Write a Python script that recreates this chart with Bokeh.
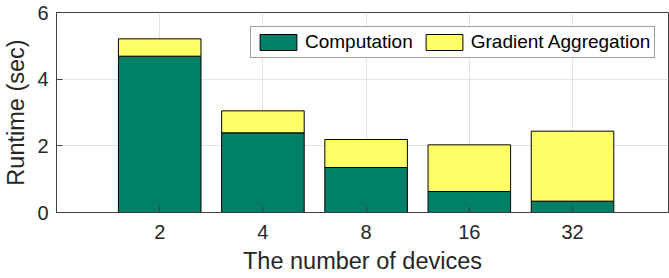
from bokeh.plotting import figure
from bokeh.models import ColumnDataSource, Range1d, FixedTicker, Legend, LegendItem
from bokeh.embed import file_html
from bokeh.resources import INLINE

devices = ["2", "4", "8", "16", "32"]
computation = [4.69, 2.39, 1.35, 0.63, 0.34]
aggregation = [0.52, 0.66, 0.84, 1.40, 2.10]
positions = [1, 2, 3, 4, 5]
y_ticks = [0, 2, 4, 6]

FONT = "Liberation Sans"
TXT = "#262626"

src = ColumnDataSource(dict(x=positions, comp=computation, agg=aggregation))

p = figure(width=669, height=278, output_backend="svg", toolbar_location=None,
           x_range=Range1d(0, 5.93), y_range=Range1d(0, 6),
           min_border_left=55, min_border_right=1, min_border_top=12, min_border_bottom=66)

p.background_fill_color = "white"
p.outline_line_color = "#404040"
p.outline_line_width = 1

rs = p.vbar_stack(["comp", "agg"], x="x", width=0.8, source=src,
                  color=["#008066", "#FFFF66"], line_color="black", line_width=1)
for r in rs:
    r.glyph.line_color = "black"

p.xaxis.ticker = FixedTicker(ticks=positions)
p.xaxis.major_label_overrides = {pos: lab for pos, lab in zip(positions, devices)}
p.yaxis.ticker = FixedTicker(ticks=y_ticks)

for ax in (p.xaxis[0], p.yaxis[0]):
    ax.axis_line_color = "#404040"
    ax.major_tick_line_color = "#404040"
    ax.major_tick_in = 6
    ax.major_tick_out = 0
    ax.minor_tick_line_color = None
    ax.major_label_text_font = FONT
    ax.major_label_text_font_size = "20px"
    ax.major_label_text_color = TXT
    ax.axis_label_text_font = FONT
    ax.axis_label_text_font_size = "23.5px"
    ax.axis_label_text_font_style = "normal"
    ax.axis_label_text_color = TXT

p.xaxis.axis_label = "The number of devices"
p.yaxis.axis_label = "Runtime (sec)"
p.xaxis.major_label_standoff = 12
p.xaxis.axis_label_standoff = 6
p.yaxis.major_label_standoff = 8
p.yaxis.axis_label_standoff = 5

p.xgrid.ticker = FixedTicker(ticks=positions)
p.grid.grid_line_color = "#e3e3e3"
p.grid.grid_line_width = 1

legend = Legend(items=[LegendItem(label="Computation", renderers=[rs[0]]),
                       LegendItem(label="Gradient Aggregation", renderers=[rs[1]])],
                orientation="horizontal", location=(194, 154))
legend.glyph_width = 46
legend.glyph_height = 20
legend.label_text_font = FONT
legend.label_text_font_size = "19px"
legend.label_text_color = "black"
legend.label_standoff = 4
legend.label_height = 20
legend.padding = 4
legend.spacing = 8
legend.margin = 0
legend.border_line_color = "#404040"
legend.border_line_width = 1
legend.background_fill_alpha = 1
p.add_layout(legend, "center")

open("out.html", "w").write(file_html(p, INLINE))
